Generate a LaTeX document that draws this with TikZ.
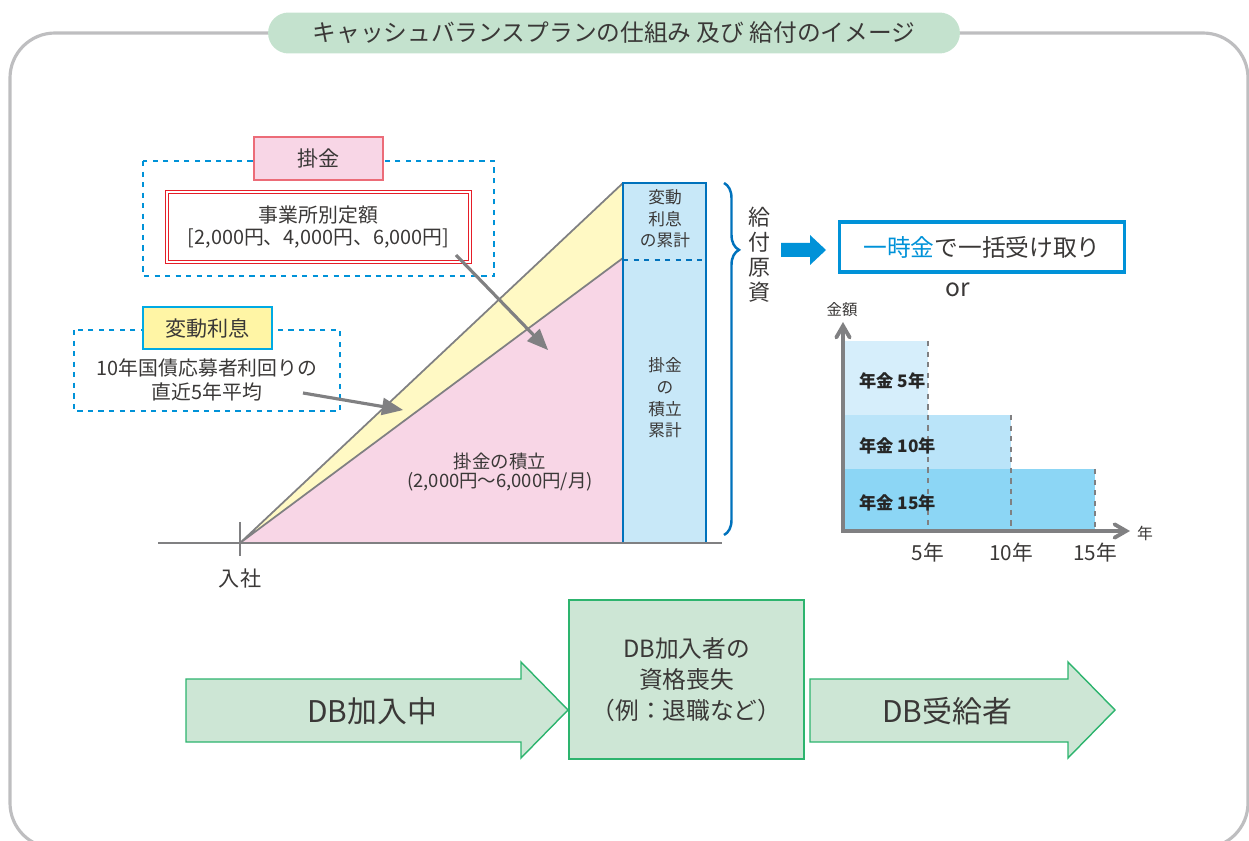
\documentclass[tikz,border=0pt]{standalone}
\usepackage{fontspec}
\setmainfont{Noto Sans CJK JP}
\usetikzlibrary{shapes,backgrounds}
\usetikzlibrary{arrows,decorations.pathreplacing}

\definecolor{ink}{RGB}{58,56,55}
\definecolor{framegray}{RGB}{190,190,192}
\definecolor{axisgray}{RGB}{128,128,130}
\definecolor{titlegreen}{RGB}{196,226,206}
\definecolor{boxgreen}{RGB}{205,230,213}
\definecolor{edgegreen}{RGB}{45,180,110}
\definecolor{kakepink}{RGB}{248,214,230}
\definecolor{kakeedge}{RGB}{236,108,120}
\definecolor{kakered}{RGB}{230,30,40}
\definecolor{riyellow}{RGB}{255,249,196}
\definecolor{tagyellow}{RGB}{255,245,165}
\definecolor{tagcyan}{RGB}{0,170,228}
\definecolor{colblue}{RGB}{0,114,188}
\definecolor{colfill}{RGB}{200,232,248}
\definecolor{keyblue}{RGB}{0,146,216}
\definecolor{barA}{RGB}{214,238,251}
\definecolor{barB}{RGB}{186,228,249}
\definecolor{barC}{RGB}{140,214,245}

\tikzset{
  lbl/.style={text=ink, align=center, inner sep=0pt, font=\fontsize{11.3}{13.3}\selectfont},
  tag/.style={lbl, draw, line width=1pt, minimum width=2.58cm, minimum height=0.85cm, font=\fontsize{12}{14}\selectfont},
  dashframe/.style={draw=keyblue, dashed, line width=0.8pt},
  pointer/.style={axisgray, line width=1.8pt, -triangle 45},
  flow/.style={draw=edgegreen, fill=boxgreen, line width=0.8pt},
  bar/.style={lbl, text=black!85, font=\bfseries\fontsize{9.8}{11}\selectfont, anchor=west}
}

\begin{document}
\begin{tikzpicture}[x=0.02cm,y=-0.02cm]
\useasboundingbox (0,0) rectangle (1249,841);
\draw[framegray, line width=1.8pt, rounded corners=0.9cm] (10,33) rectangle (1248,848);
\node[lbl, fill=titlegreen, rounded corners=0.41cm, minimum width=13.84cm, minimum height=0.82cm, font=\fontsize{13.5}{15}\selectfont] (title) at (614,33) {キャッシュバランスプランの仕組み 及び 給付のイメージ};

\fill[kakepink] (240,543) -- (623,258) -- (623,543) -- cycle;
\fill[riyellow] (240,543) -- (623,183) -- (623,258) -- cycle;
\draw[axisgray, line width=1pt] (623,183) -- (240,543) -- (623,258);
\node[draw=colblue, fill=colfill, line width=1.2pt, minimum width=1.66cm, minimum height=7.2cm] (col) at (664.5,363) {};
\draw[colblue, dashed, line width=1pt] (623,260) -- (706,260);
\draw[axisgray, line width=1.7pt] (158,543) -- (722,543);
\draw[axisgray, line width=1.7pt] (240,522) -- (240,556);
\node[lbl, font=\fontsize{9.5}{12.3}\selectfont] (sumint) at (665,219) {変動\\利息\\の累計};
\node[lbl, font=\fontsize{9.5}{12.3}\selectfont] (sumkake) at (665,398) {掛金\\の\\積立\\累計};
\node[lbl, font=\fontsize{10.5}{11.3}\selectfont] (tsumi) at (500,472) {掛金の積立\\(2,000円～6,000円/月)};
\node[lbl, font=\fontsize{12}{14}\selectfont] (nyusha) at (240,578) {入社};

\draw[colblue, line width=1.4pt, decorate, decoration={brace, amplitude=0.3cm, aspect=0.19}] (724,183) -- (724,535);
\node[lbl, font=\fontsize{12.5}{14.2}\selectfont] (gensi) at (759,255) {給\\付\\原\\資};
\fill[keyblue] (781,243) -- (810,243) -- (810,235) -- (826,250) -- (810,265) -- (810,257) -- (781,257) -- cycle;
\node[lbl, draw=keyblue, line width=1.8pt, minimum width=5.7cm, minimum height=1.0cm, font=\fontsize{13.5}{15}\selectfont] (lump) at (982,247) {\textcolor{keyblue}{一時金}で一括受け取り};
\node[lbl, font=\fontsize{14}{15}\selectfont] (orword) at (958,290) {or};

\fill[barA] (845,341) rectangle (928,415);
\fill[barB] (845,415) rectangle (1011,469);
\fill[barC] (845,469) rectangle (1095,531);
\draw[axisgray, dashed, line width=0.8pt] (928,341) -- (928,531) (1011,415) -- (1011,531) (1095,469) -- (1095,531);
\coordinate (orig) at (843,531);
\draw[axisgray, line width=2.2pt, angle 60-angle 60] (843,322) -- (orig) -- (1130,531);
\node[lbl, font=\fontsize{8.8}{10}\selectfont] (kingaku) at (842,310) {金額};
\node[lbl, font=\fontsize{9}{10}\selectfont] (nen) at (1145,533) {年};
\node[bar] (p5) at (859,381) {年金 5年};
\node[bar] (p10) at (859,446) {年金 10年};
\node[bar] (p15) at (859,503) {年金 15年};
\node[lbl, font=\fontsize{11.8}{13}\selectfont] (x5) at (928,553) {5年};
\node[lbl, font=\fontsize{11.8}{13}\selectfont] (x10) at (1011,553) {10年};
\node[lbl, font=\fontsize{11.8}{13}\selectfont] (x15) at (1095,553) {15年};

\draw[dashframe] (143,161) rectangle (494,276);
\node[tag, draw=kakeedge, fill=kakepink] (kake) at (318.5,158.5) {掛金};
\node[lbl, draw=kakered, double=white, line width=0.6pt, double distance=1.3pt, minimum width=6.06cm, minimum height=1.39cm, font=\fontsize{11.3}{13}\selectfont] (teigaku) at (318.5,227) {事業所別定額\\{[}2,000円、4,000円、6,000円{]}};
\coordinate (a1s) at (456,255);
\coordinate (a1e) at (548,350);
\draw[pointer] (a1s) -- (a1e);

\draw[dashframe] (74,330) rectangle (340,411);
\node[tag, draw=tagcyan, fill=tagyellow] (hendo) at (207.5,328) {変動利息};
\node[lbl, font=\fontsize{11.3}{13.6}\selectfont] (rimawari) at (207,380) {10年国債応募者利回りの\\直近5年平均};
\coordinate (a2s) at (303,393);
\coordinate (a2e) at (403,410);
\draw[pointer] (a2s) -- (a2e);

\draw[flow] (186,679) -- (521,679) -- (521,662) -- (568,710) -- (521,758) -- (521,742) -- (186,742) -- cycle;
\node[lbl, font=\fontsize{17}{18}\selectfont] (kanyu) at (372,711) {DB加入中};
\node[lbl, flow, minimum width=4.7cm, minimum height=3.18cm, font=\fontsize{13.5}{17.5}\selectfont] (soshitsu) at (686.5,679.5) {DB加入者の\\資格喪失\\（例：退職など）};
\draw[flow] (810,679) -- (1068,679) -- (1068,662) -- (1115,710) -- (1068,758) -- (1068,742) -- (810,742) -- cycle;
\node[lbl, font=\fontsize{17}{18}\selectfont] (jukyu) at (947,711) {DB受給者};
\end{tikzpicture}
\end{document}
